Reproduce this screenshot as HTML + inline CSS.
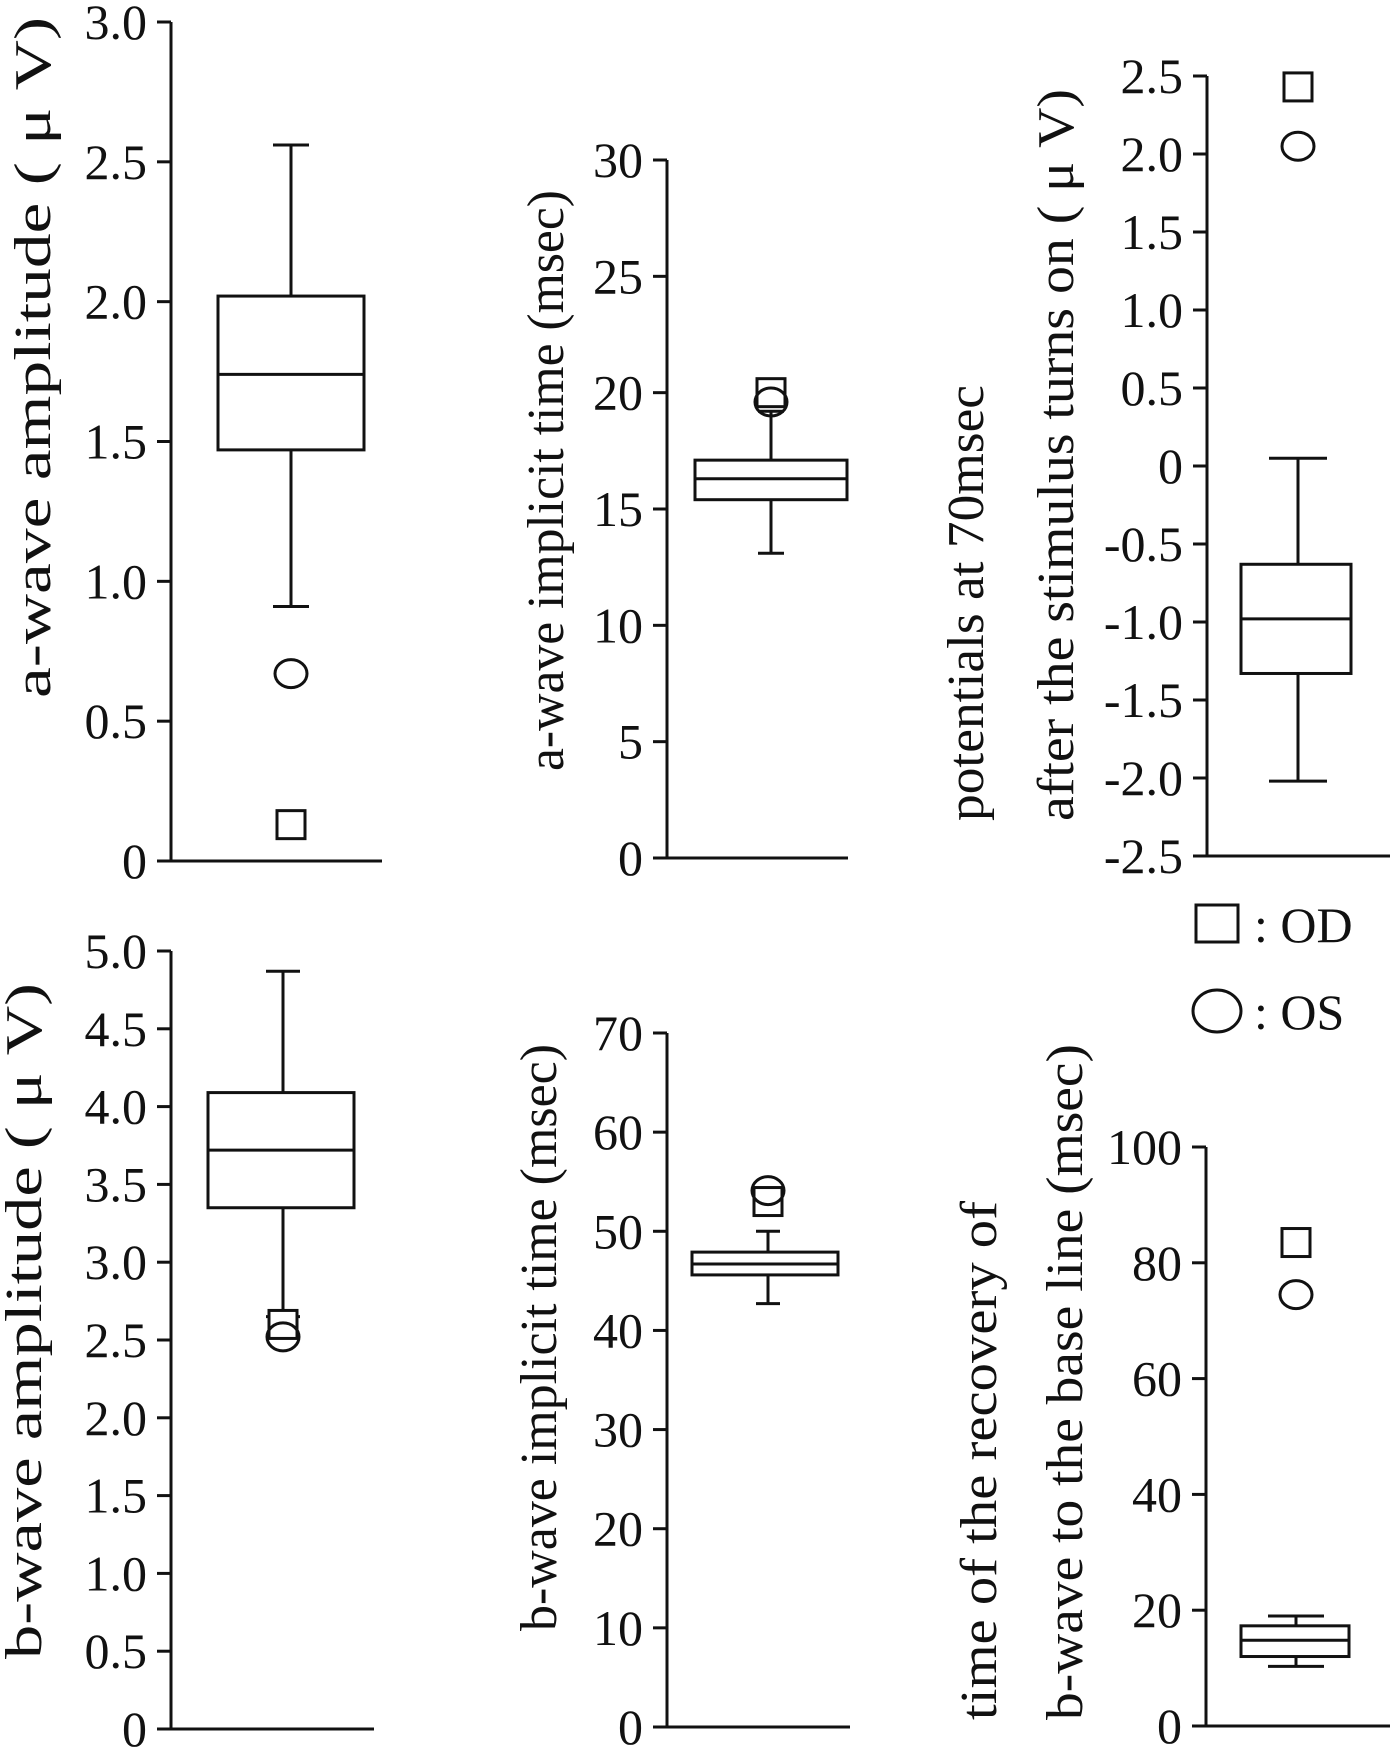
<!DOCTYPE html>
<html><head><meta charset="utf-8"><style>
html,body{margin:0;padding:0;background:#fff;}
svg{display:block;}
text{font-family:"Liberation Serif","Times New Roman",Times,serif;fill:#111;}
</style></head><body>
<svg id="chart" width="1396" height="1754" viewBox="0 0 1396 1754" xmlns="http://www.w3.org/2000/svg"></svg>
<script>
// ---- data (per panel) ----
const panelNames = ['a-wave-amplitude','a-wave-implicit-time','potentials-70msec','b-wave-amplitude','b-wave-implicit-time','b-wave-recovery-time'];
const whiskerHigh = [2.56, 19.2, 0.05, 4.87, 50.0, 19.0];
const q3Values    = [2.02, 17.1, -0.63, 4.09, 47.9, 17.3];
const medianValues= [1.74, 16.3, -0.98, 3.72, 46.7, 14.8];
const q1Values    = [1.47, 15.4, -1.33, 3.35, 45.6, 12.0];
const whiskerLow  = [0.91, 13.1, -2.02, 2.65, 42.7, 10.3];
const odValues    = [0.13, 20.0, 2.43, 2.60, 53.0, 83.5];
const osValues    = [0.67, 19.6, 2.05, 2.52, 54.1, 74.5];
const tickLabels = [
  ['0','0.5','1.0','1.5','2.0','2.5','3.0'],
  ['0','5','10','15','20','25','30'],
  ['-2.5','-2.0','-1.5','-1.0','-0.5','0','0.5','1.0','1.5','2.0','2.5'],
  ['0','0.5','1.0','1.5','2.0','2.5','3.0','3.5','4.0','4.5','5.0'],
  ['0','10','20','30','40','50','60','70'],
  ['0','20','40','60','80','100']
];
const tickValues = [
  [0,0.5,1,1.5,2,2.5,3],
  [0,5,10,15,20,25,30],
  [-2.5,-2,-1.5,-1,-0.5,0,0.5,1,1.5,2,2.5],
  [0,0.5,1,1.5,2,2.5,3,3.5,4,4.5,5],
  [0,10,20,30,40,50,60,70],
  [0,20,40,60,80,100]
];
const axisTitles = [
  ['a-wave amplitude ( \u03bc V)'],
  ['a-wave implicit time (msec)'],
  ['potentials at 70msec','after the stimulus turns on ( \u03bc V)'],
  ['b-wave amplitude ( \u03bc V)'],
  ['b-wave implicit time (msec)'],
  ['time of the recovery of','b-wave to the base line (msec)']
];
// ---- layout (pixels) ----
const layout = [
  {ax:171, axEnd:382, yTop:22, yBot:861, vMin:0, vMax:3, bx0:218, bx1:364, cx:291, cap:36,
   titles:[{x:34, y0:17, y1:698}]},
  {ax:667, axEnd:848, yTop:160, yBot:858, vMin:0, vMax:30, bx0:695, bx1:847, cx:771, cap:26,
   titles:[{x:547, y0:190, y1:771}]},
  {ax:1207, axEnd:1390, yTop:76, yBot:856, vMin:-2.5, vMax:2.5, bx0:1241, bx1:1351, cx:1298, cap:58,
   titles:[{x:967, y0:385, y1:821},{x:1057, y0:89, y1:821}]},
  {ax:171, axEnd:374, yTop:951, yBot:1729, vMin:0, vMax:5, bx0:208, bx1:354, cx:283, cap:34,
   titles:[{x:25, y0:983, y1:1659}]},
  {ax:667, axEnd:850, yTop:1033, yBot:1727, vMin:0, vMax:70, bx0:692, bx1:838, cx:768, cap:24,
   titles:[{x:540, y0:1044, y1:1631}]},
  {ax:1206, axEnd:1390, yTop:1147, yBot:1726, vMin:0, vMax:100, bx0:1241, bx1:1349, cx:1296, cap:56,
   titles:[{x:980, y0:1201, y1:1720},{x:1066, y0:1044, y1:1720}]}
];
const NS='http://www.w3.org/2000/svg';
const FONT='"Liberation Serif","Times New Roman",Times,serif';
const svg=document.getElementById('chart');
function mk(tag, attrs, parent){const e=document.createElementNS(NS,tag);for(const k in attrs)e.setAttribute(k,attrs[k]);(parent||svg).appendChild(e);return e;}
const S={stroke:'#111','stroke-width':3,fill:'none'};
for(let p=0;p<6;p++){
  const L=layout[p];
  const g=mk('g',{});
  
  
  const y=v=>L.yBot-(v-L.vMin)/(L.vMax-L.vMin)*(L.yBot-L.yTop);
  const ya=mk('line',{x1:L.ax,y1:L.yTop,x2:L.ax,y2:L.yBot,...S},g);
  
  
  const xa=mk('line',{x1:L.ax-14,y1:L.yBot,x2:L.axEnd,y2:L.yBot,...S},g);
  
  
  tickValues[p].forEach((v,i)=>{
    const yy=y(v);
    const t=mk('line',{x1:L.ax-14,y1:yy,x2:L.ax,y2:yy,...S},g);
    
    
    const tl=mk('text',{x:L.ax-24,y:yy+17,'text-anchor':'end','font-size':50,'font-family':FONT},g);
    tl.textContent=tickLabels[p][i];
    
    
  });
  L.titles.forEach((T,i)=>{
    const cy=(T.y0+T.y1)/2;
    const tt=mk('text',{x:0,y:16,'text-anchor':'middle','font-size':52,'font-family':FONT,
      textLength:T.y1-T.y0,lengthAdjust:'spacingAndGlyphs',transform:`translate(${T.x},${cy}) rotate(-90)`},g);
    tt.textContent=axisTitles[p][i];
    
    
  });
  const wh=mk('line',{x1:L.cx,y1:y(whiskerHigh[p]),x2:L.cx,y2:y(q3Values[p]),...S},g);
  
  
  const whc=mk('line',{x1:L.cx-L.cap/2,y1:y(whiskerHigh[p]),x2:L.cx+L.cap/2,y2:y(whiskerHigh[p]),...S},g);
  
  
  const wl=mk('line',{x1:L.cx,y1:y(q1Values[p]),x2:L.cx,y2:y(whiskerLow[p]),...S},g);
  
  
  const wlc=mk('line',{x1:L.cx-L.cap/2,y1:y(whiskerLow[p]),x2:L.cx+L.cap/2,y2:y(whiskerLow[p]),...S},g);
  
  
  const bx=mk('rect',{x:L.bx0,y:y(q3Values[p]),width:L.bx1-L.bx0,height:y(q1Values[p])-y(q3Values[p]),...S},g);
  
  
  const md=mk('line',{x1:L.bx0,y1:y(medianValues[p]),x2:L.bx1,y2:y(medianValues[p]),...S},g);
  
  
  const oy=y(odValues[p]);
  const od=mk('rect',{x:L.cx-14,y:oy-14,width:28,height:28,...S,fill:'#fff'},g);
  
  
  const sy=y(osValues[p]);
  const os=mk('ellipse',{cx:L.cx,cy:sy,rx:16,ry:14,...S},g);
  
  
}
const lg=mk('g',{});


const l1=mk('rect',{x:1196,y:905,width:42,height:37,...S},lg);


const lt1=mk('text',{x:1254,y:942,'font-size':50,'font-family':FONT},lg);
lt1.textContent=': OD';


const l2=mk('ellipse',{cx:1217,cy:1011,rx:24,ry:21,...S},lg);


const lt2=mk('text',{x:1254,y:1029,'font-size':50,'font-family':FONT},lg);
lt2.textContent=': OS';


</script>
</body></html>
